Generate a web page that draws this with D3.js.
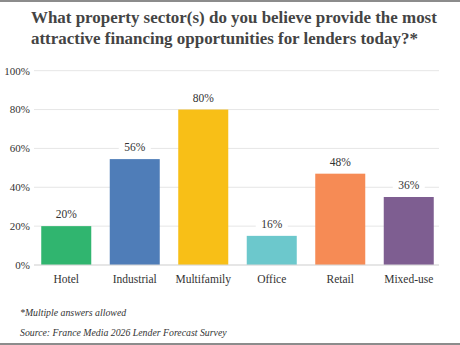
<!DOCTYPE html>
<html>
<head>
<meta charset="utf-8">
<script src="https://cdn.jsdelivr.net/npm/d3@7"></script>
<style>
  html, body { margin: 0; padding: 0; background: #fff; }
  svg { display: block; }
</style>
</head>
<body>
<svg id="chart" width="460" height="345"></svg>
<script>
const categories = ["Hotel", "Industrial", "Multifamily", "Office", "Retail", "Mixed-use"];
const values = [20, 54.5, 80, 15, 47, 35];
const valueLabels = ["20%", "56%", "80%", "16%", "48%", "36%"];
const colors = ["#30b56f", "#4f7db8", "#f8bf17", "#6cc8cc", "#f68b55", "#7e5e91"];
const yTicks = [0, 20, 40, 60, 80, 100];
const titleLines = [
  "What property sector(s) do you believe provide the most",
  "attractive financing opportunities for lenders today?*",
];
const notes = ["*Multiple answers allowed", "Source: France Media 2026 Lender Forecast Survey"];

const svg = d3.select("#chart");
const width = +svg.attr("width");
const height = +svg.attr("height");
const serif = "'Liberation Serif', 'DejaVu Serif', serif";

// frame lines
svg.append("rect").attr("x", 0).attr("y", 0).attr("width", width).attr("height", 2).attr("fill", "#8c8c8c");
svg.append("rect").attr("x", 0).attr("y", height - 2).attr("width", width).attr("height", 2).attr("fill", "#8c8c8c");

// title, sized so the first line spans about 406px like the original
const title = svg.append("g")
  .selectAll("text")
  .data(titleLines)
  .join("text")
  .attr("x", 31)
  .attr("y", (d, i) => 23 + i * 21)
  .attr("font-family", serif)
  .attr("font-weight", "bold")
  .attr("font-size", 18)
  .attr("fill", "#444")
  .text((d) => d);

const firstLen = title.node().getComputedTextLength();
title.attr("font-size", Math.min(18.5, 18 * 406 / firstLen));

const x = d3.scaleBand()
  .domain(categories)
  .range([32, 443])
  .paddingInner(0.27)
  .paddingOuter(0.135);

const y = d3.scaleLinear().domain([0, 100]).range([265, 70.7]);

// grid
svg.append("g")
  .selectAll("line")
  .data(yTicks)
  .join("line")
  .attr("x1", 34)
  .attr("x2", 439)
  .attr("y1", (d) => y(d))
  .attr("y2", (d) => y(d))
  .attr("stroke", "#e6e6e6")
  .attr("stroke-width", 1);

// y tick labels
svg.append("g")
  .selectAll("text")
  .data(yTicks)
  .join("text")
  .attr("x", 30)
  .attr("y", (d) => y(d))
  .attr("dy", "0.35em")
  .attr("text-anchor", "end")
  .attr("font-family", serif)
  .attr("font-size", 11)
  .attr("fill", "#333")
  .text((d) => d + "%");

// bars
svg.append("g")
  .selectAll("rect")
  .data(categories)
  .join("rect")
  .attr("x", (d) => x(d))
  .attr("y", (d, i) => y(values[i]))
  .attr("width", x.bandwidth())
  .attr("height", (d, i) => y(0) - y(values[i]))
  .attr("fill", (d, i) => colors[i]);

// axis baseline
svg.append("line")
  .attr("x1", 34).attr("x2", 439)
  .attr("y1", y(0)).attr("y2", y(0))
  .attr("stroke", "#d9d9d9");

// value labels with white backing
const lab = svg.append("g")
  .selectAll("g")
  .data(categories)
  .join("g")
  .attr("transform", (d, i) => `translate(${x(d) + x.bandwidth() / 2}, ${y(values[i]) - 12})`);

lab.append("rect")
  .attr("x", -16).attr("y", -7).attr("width", 32).attr("height", 14)
  .attr("fill", "#fff");

lab.append("text")
  .attr("text-anchor", "middle")
  .attr("dy", "0.35em")
  .attr("font-family", serif)
  .attr("font-size", 11.5)
  .attr("fill", "#333")
  .text((d, i) => valueLabels[i]);

// category labels
svg.append("g")
  .selectAll("text")
  .data(categories)
  .join("text")
  .attr("x", (d) => x(d) + x.bandwidth() / 2)
  .attr("y", 283)
  .attr("text-anchor", "middle")
  .attr("font-family", serif)
  .attr("font-size", 11.5)
  .attr("fill", "#333")
  .text((d) => d);

// notes
svg.append("g")
  .selectAll("text")
  .data(notes)
  .join("text")
  .attr("x", 20)
  .attr("y", (d, i) => 316 + i * 20)
  .attr("font-family", serif)
  .attr("font-style", "italic")
  .attr("font-size", 9.8)
  .attr("fill", "#333")
  .text((d) => d);
</script>
</body>
</html>
